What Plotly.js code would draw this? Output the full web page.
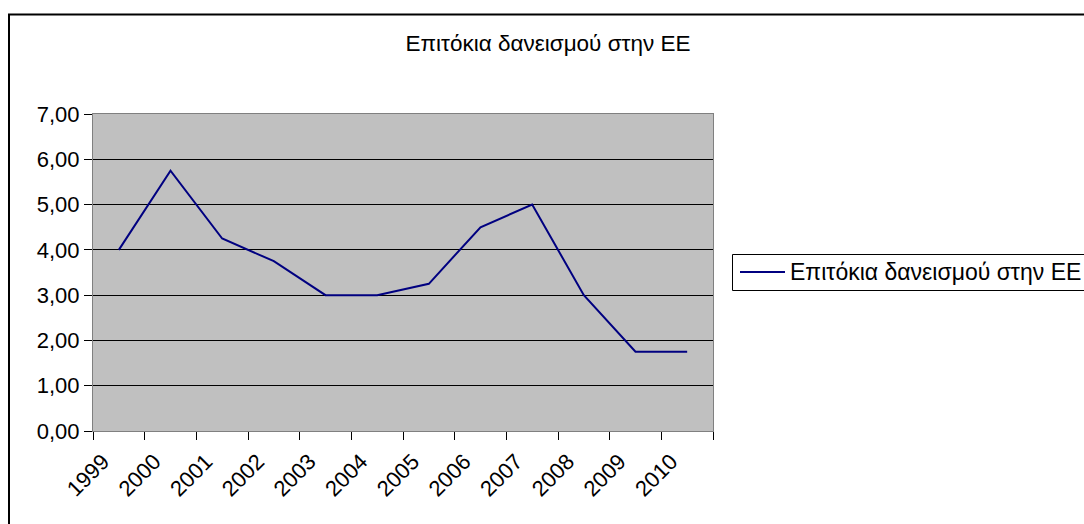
<!DOCTYPE html>
<html>
<head>
<meta charset="utf-8">
<script src="https://cdn.plot.ly/plotly-3.0.1.min.js"></script>
<style>
html,body{margin:0;padding:0;background:#fff;}
#chart{width:1084px;height:524px;}
</style>
</head>
<body>
<div id="chart"></div>
<script>
var years = ['1999','2000','2001','2002','2003','2004','2005','2006','2007','2008','2009','2010'];
var rates = [4.00, 5.75, 4.25, 3.75, 3.00, 3.00, 3.25, 4.50, 5.00, 3.00, 1.75, 1.75];
var seriesName = 'Επιτόκια δανεισμού στην ΕΕ';
var chartTitle = 'Επιτόκια δανεισμού στην ΕΕ';

var FONT = 'Liberation Sans, Arial, sans-serif';
var W = 1084, H = 524;
var L = 93, R = 713, T = 114, B = 431;
var pw = R - L, ph = B - T;
function px(x) { return (x - L) / pw; }
function py(y) { return (B - y) / ph; }

var LINE_COLOR = '#000080';

var trace = {
  x: years,
  y: rates,
  type: 'scatter',
  mode: 'lines',
  name: seriesName,
  line: {color: LINE_COLOR, width: 2},
  showlegend: false
};

var layout = {
  width: W, height: H,
  margin: {l: L, r: W - R, t: T, b: H - B, pad: 0},
  paper_bgcolor: '#ffffff',
  plot_bgcolor: '#c0c0c0',
  separators: ',.',
  showlegend: false,
  font: {family: FONT, size: 22, color: '#000'},
  title: {
    text: chartTitle,
    font: {family: FONT, size: 22.5, color: '#000'},
    xref: 'container', yref: 'container',
    x: 548 / W, xanchor: 'center',
    y: 1 - 43 / H, yanchor: 'middle'
  },
  xaxis: {
    type: 'category',
    range: [-0.5, years.length - 0.5],
    tickson: 'boundaries',
    ticks: 'outside', ticklen: 8, tickcolor: '#000', tickwidth: 1,
    tickangle: -45,
    ticklabelshift: -16,
    ticklabelstandoff: 8,
    tickfont: {family: FONT, size: 22, color: '#000'},
    showgrid: false,
    showline: true, linecolor: '#808080', linewidth: 1, mirror: true,
    zeroline: false,
    fixedrange: true
  },
  yaxis: {
    range: [0, 7],
    dtick: 1,
    tick0: 0,
    tickformat: '.2f',
    ticks: 'outside', ticklen: 8, tickcolor: '#000', tickwidth: 1,
    tickfont: {family: FONT, size: 22, color: '#000'},
    showgrid: true, gridcolor: '#000000', gridwidth: 1,
    zeroline: true, zerolinecolor: '#000000', zerolinewidth: 1,
    showline: true, linecolor: '#808080', linewidth: 1, mirror: true,
    fixedrange: true
  },
  shapes: [
    {
      type: 'rect', xref: 'paper', yref: 'paper',
      x0: px(9), x1: px(1100),
      y0: py(540), y1: py(14.5),
      line: {color: '#000', width: 2}, fillcolor: 'rgba(0,0,0,0)'
    },
    {
      type: 'rect', xref: 'paper', yref: 'paper',
      x0: px(732.5), x1: px(1100),
      y0: py(290.5), y1: py(254.5),
      line: {color: '#000', width: 1}, fillcolor: '#ffffff'
    },
    {
      type: 'line', xref: 'paper', yref: 'paper',
      x0: px(740), x1: px(785),
      y0: py(272), y1: py(272),
      line: {color: LINE_COLOR, width: 2}
    }
  ],
  annotations: [
    {
      text: seriesName,
      xref: 'paper', yref: 'paper',
      x: px(788), xanchor: 'left',
      y: py(272), yanchor: 'middle',
      showarrow: false,
      font: {family: FONT, size: 23, color: '#000'}
    }
  ]
};

Plotly.newPlot('chart', [trace], layout, {displayModeBar: false, staticPlot: true});
</script>
</body>
</html>
